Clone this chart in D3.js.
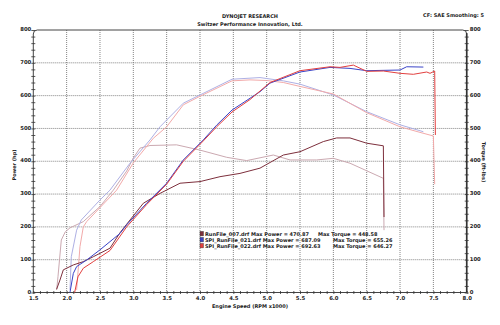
<!DOCTYPE html>
<html><head><meta charset="utf-8">
<script src="https://cdn.jsdelivr.net/npm/d3@7"></script>
<style>
html,body{margin:0;padding:0;background:#fff;}
text{font-family:"DejaVu Sans",Verdana,sans-serif;font-weight:bold;fill:#222;}
</style></head>
<body><svg id="c" width="500" height="325"></svg>
<script>
// ---- data ----
const xTicks = [1.5,2.0,2.5,3.0,3.5,4.0,4.5,5.0,5.5,6.0,6.5,7.0,7.5,8.0];
const yTicks = [0,100,200,300,400,500,600,700,800];

const rpm021P = [2.05,2.08,2.10,2.15,2.30,2.50,2.80,2.90,3.20,3.50,3.75,4.05,4.25,4.48,4.75,4.90,5.05,5.50,5.95,6.25,6.50,7.00,7.10,7.35];
const pow021  = [0,35,58,79,99,130,180,206,272,333,404,465,510,556,592,612,638,672,686,683,676,678,688,687];
const rpm021T = [2.05,2.07,2.15,2.22,2.50,2.65,2.95,3.25,3.40,3.75,4.00,4.48,4.90,5.25,5.50,6.00,6.50,7.00,7.35];
const tq021   = [8,109,190,221,282,312,394,465,505,577,602,650,655,645,635,602,551,511,490];

const rpm022P = [2.12,2.17,2.25,2.40,2.65,2.90,3.20,3.50,3.75,4.05,4.25,4.48,4.75,5.05,5.50,5.95,6.10,6.30,6.50,6.75,7.00,7.20,7.40,7.45,7.52,7.53];
const pow022  = [0,48,74,94,128,200,268,330,400,462,505,550,588,640,676,688,686,693,674,675,668,665,672,668,675,480];
const rpm022T = [2.15,2.20,2.25,2.30,2.75,3.00,3.30,3.50,3.75,4.00,4.48,4.75,5.00,5.25,5.50,6.00,6.50,7.00,7.30,7.50,7.52];
const tq022   = [8,140,200,216,312,395,470,505,572,598,645,648,646,640,628,605,548,505,488,477,330];

const rpm007P = [1.85,1.90,1.95,2.10,2.25,2.40,2.65,2.80,2.90,3.15,3.40,3.70,4.00,4.30,4.60,4.90,5.25,5.50,5.85,6.05,6.25,6.50,6.75,6.76];
const pow007  = [10,38,69,84,94,109,135,182,208,272,302,333,338,353,363,379,419,429,460,471,471,455,447,230];
const rpm007T = [1.85,1.87,1.92,1.98,2.05,2.25,2.50,2.70,2.90,3.00,3.10,3.25,3.65,4.00,4.40,4.70,5.10,5.35,5.75,6.00,6.25,6.75,6.76];
const tq007   = [8,48,160,185,197,216,262,312,370,410,440,448,450,434,412,402,419,404,404,409,394,348,190];

const legendNames = ["RunFile_007.drf","SPI_RunFile_021.drf","SPI_RunFile_022.drf"];
const maxPower = ["470.87","687.09","692.63"];
const maxTorque = ["448.58","655.26","646.27"];

// ---- layout ----
const svg = d3.select("#c");
const L=33.3,R=466.7,T=30,B=292.5;
const x = d3.scaleLinear().domain([1.5,8]).range([L,R]);
const y = d3.scaleLinear().domain([0,800]).range([B,T]);
const fs = 5.0, fsTick = 5.3;

// grid
const g = svg.append("g");
g.selectAll("line.v").data(xTicks.slice(1,-1)).enter().append("line")
 .attr("x1",d=>x(d)).attr("x2",d=>x(d)).attr("y1",T).attr("y2",B)
 .attr("stroke","#666").attr("stroke-width",0.8).attr("stroke-dasharray","1,1");
g.selectAll("line.h").data(yTicks.slice(1,-1)).enter().append("line")
 .attr("x1",L).attr("x2",R).attr("y1",d=>y(d)).attr("y2",d=>y(d))
 .attr("stroke","#666").attr("stroke-width",0.8).attr("stroke-dasharray","1,1");

// frame
svg.append("path")
 .attr("d",`M${L},${B} L${L},${T+4} Q${L},${T} ${L+4},${T} L${R-4},${T} Q${R},${T} ${R},${T+4} L${R},${B} Z`)
 .attr("fill","none").attr("stroke","#444").attr("stroke-width",1);
svg.append("line").attr("x1",R).attr("x2",R).attr("y1",T+3).attr("y2",B)
 .attr("stroke","#333").attr("stroke-width",1.6);

// minor ticks
const minorY = d3.range(0,801,20);
const minorX = d3.range(15,81,1).map(d=>d/10);
const axL = svg.append("g").attr("transform",`translate(${L+2},0)`)
 .call(d3.axisLeft(y).tickValues(minorY).tickSize(4).tickFormat(""));
const axR = svg.append("g").attr("transform",`translate(${R-2},0)`)
 .call(d3.axisRight(y).tickValues(minorY).tickSize(4).tickFormat(""));
const axB = svg.append("g").attr("transform",`translate(0,${B+1.5})`)
 .call(d3.axisTop(x).tickValues(minorX).tickSize(3).tickFormat(""));
[axL,axR,axB].forEach(a=>{a.select(".domain").remove();a.selectAll("line").attr("stroke","#333").attr("stroke-width",0.8);});

// labels
const lblL = svg.append("g").attr("transform",`translate(${L},-1)`)
 .call(d3.axisLeft(y).tickValues(yTicks).tickSize(0).tickPadding(2).tickFormat(d3.format("d")));
const lblR = svg.append("g").attr("transform",`translate(${R},-1)`)
 .call(d3.axisRight(y).tickValues(yTicks).tickSize(0).tickPadding(3).tickFormat(d3.format("d")));
const lblB = svg.append("g").attr("transform",`translate(0,${B})`)
 .call(d3.axisBottom(x).tickValues(xTicks).tickSize(0).tickPadding(4).tickFormat(d3.format(".1f")));
[lblL,lblR,lblB].forEach(a=>{a.select(".domain").remove();
 a.selectAll("text").attr("font-size",fsTick).attr("font-family","DejaVu Sans").attr("font-weight","bold").attr("fill","#222");});

// curves
const line = d3.line().x(d=>x(d[0])).y(d=>y(d[1]));
const series = [
 {r:rpm007T,v:tq007,c:"#cba9b1"},
 {r:rpm021T,v:tq021,c:"#aeb0e4"},
 {r:rpm022T,v:tq022,c:"#f2aaaa"},
 {r:rpm007P,v:pow007,c:"#7d2f3c"},
 {r:rpm021P,v:pow021,c:"#3a44c8"},
 {r:rpm022P,v:pow022,c:"#e2403f"}
];
svg.append("g").selectAll("path").data(series).enter().append("path")
 .attr("d",s=>line(s.r.map((r,i)=>[r,s.v[i]])))
 .attr("fill","none").attr("stroke",s=>s.c).attr("stroke-width",1);

// titles
svg.append("text").attr("x",250).attr("y",18).attr("text-anchor","middle").attr("font-size",fs).text("DYNOJET RESEARCH");
svg.append("text").attr("x",250).attr("y",26).attr("text-anchor","middle").attr("font-size",fs).text("Switzer Performance Innovation, Ltd.");
svg.append("text").attr("x",484).attr("y",17).attr("text-anchor","end").attr("font-size",fs).text("CF: SAE  Smoothing: 5");
svg.append("text").attr("x",250).attr("y",307.5).attr("text-anchor","middle").attr("font-size",fs).text("Engine Speed (RPM x1000)");
svg.append("text").attr("transform","translate(16,165) rotate(-90)").attr("text-anchor","middle").attr("font-size",fs).text("Power (hp)");
svg.append("text").attr("transform","translate(482,162) rotate(90)").attr("text-anchor","middle").attr("font-size",fs).text("Torque (ft-lbs)");

// legend
const legColors = ["#7d2f3c","#3a44c8","#e2403f"];
const lg = svg.append("g");
legendNames.forEach((n,i)=>{
 const yy = 234 + i*6;
 lg.append("rect").attr("x",200).attr("y",yy-2.6).attr("width",3.5).attr("height",4.5)
  .attr("fill",legColors[i]).attr("stroke","#333").attr("stroke-width",0.4);
 lg.append("text").attr("x",205).attr("y",yy+1.8).attr("font-size",5.0).text(`${n} Max Power = ${maxPower[i]}`);
 lg.append("text").attr("x",i===0?318:333).attr("y",yy+1.8).attr("font-size",5.0).text(`Max Torque = ${maxTorque[i]}`);
});
</script></body></html>
